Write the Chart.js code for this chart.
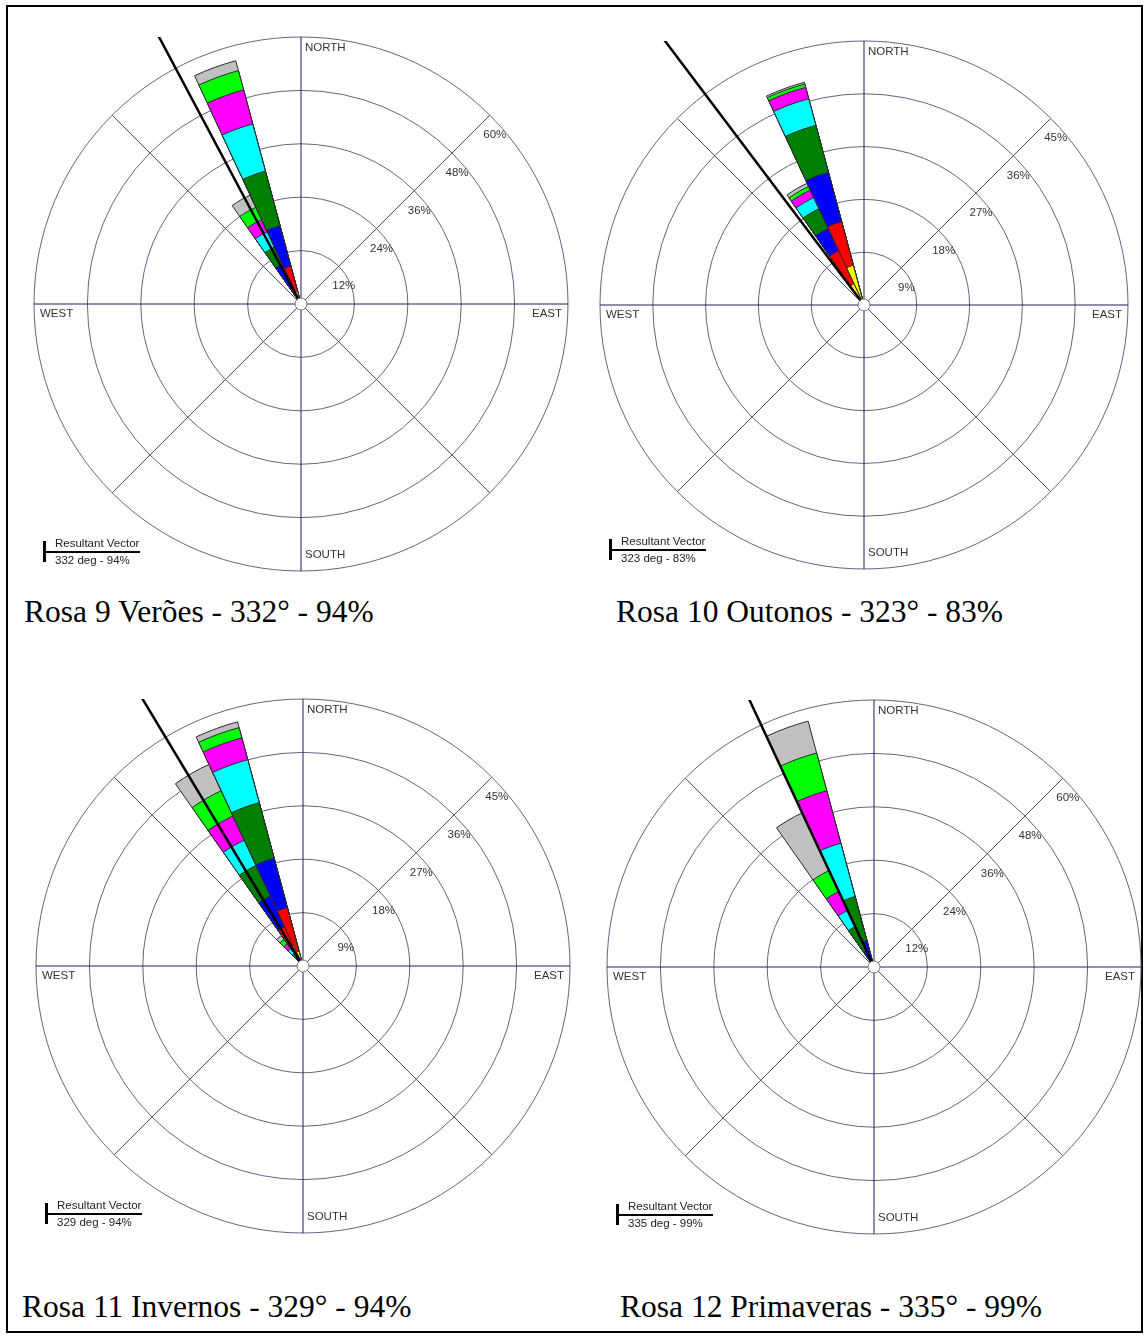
<!DOCTYPE html>
<html>
<head>
<meta charset="utf-8">
<script src="https://cdn.jsdelivr.net/npm/chart.js@4.4.0/dist/chart.umd.min.js"></script>
<style>
  body { margin: 0; background: #fff; }
  #page { position: relative; width: 1147px; height: 1337px; overflow: hidden; }
  #frame { position: absolute; left: 6px; top: 5px; width: 1137px; height: 1328px; border: 2px solid #000; box-sizing: border-box; }
  canvas { position: absolute; }
  .caption { position: absolute; font-family: 'Liberation Serif', 'Times New Roman', serif; font-size: 31.5px; line-height: 31.5px; color: #000; white-space: nowrap; }
</style>
</head>
<body>
<div id="page">
  <div id="frame"></div>
  <canvas id="rose9"></canvas>
  <canvas id="rose10"></canvas>
  <canvas id="rose11"></canvas>
  <canvas id="rose12"></canvas>
  <div class="caption" style="left:24px; top:596px;">Rosa 9 Verões - 332° - 94%</div>
  <div class="caption" style="left:616px; top:596px;">Rosa 10 Outonos - 323° - 83%</div>
  <div class="caption" style="left:22px; top:1291px;">Rosa 11 Invernos - 329° - 94%</div>
  <div class="caption" style="left:620px; top:1291px;">Rosa 12 Primaveras - 335° - 99%</div>
</div>
<script>
// sector centres (degrees from north), 36 sectors of 10 deg
const directions = ['0','10','20','30','40','50','60','70','80','90','100','110','120','130','140','150','160','170',
                    '180','190','200','210','220','230','240','250','260','270','280','290','300','310','320','330','340','350'];
// speed classes, inner -> outer
const classColors = ['#ffff00', '#ff0000', '#0000ff', '#007f00', '#00ffff', '#ff00ff', '#00ff00', '#c0c0c0'];
const spokeAngles = [0, 45, 90, 135, 180, 225, 270, 315];

// Rosa 9 - Verões (frequency % per speed class)
const verao330 = [1.0, 3.0, 5.9, 4.2, 3.8, 3.0, 3.1, 3.0];
const verao340 = [3.0, 5.8, 9.4, 12.7, 11.0, 7.9, 4.5, 2.3];
const veraoRings = [12, 24, 36, 48, 60];
const veraoVector = [332, 94];

// Rosa 10 - Outonos
const outono330 = [4.0, 6.2, 4.2, 3.7, 2.1, 1.4, 0.7, 0.6];
const outono340 = [7.0, 7.7, 8.7, 8.3, 4.7, 2.0, 0.6, 0.3];
const outonoRings = [9, 18, 27, 36, 45];
const outonoVector = [323, 83];

// Rosa 11 - Invernos
const inverno320 = [0.5, 0.5, 0.8, 0.8, 1.0, 1.0, 0.9, 0.8];
const inverno330 = [3.8, 3.5, 5.7, 5.7, 4.7, 4.5, 4.7, 4.9];
const inverno340 = [2.6, 7.6, 8.6, 9.7, 7.5, 3.8, 1.8, 1.0];
const invernoRings = [9, 18, 27, 36, 45];
const invernoVector = [329, 94];

// Rosa 12 - Primaveras
const primavera330 = [0.4, 0.4, 3.2, 6.0, 4.0, 4.7, 5.2, 14.3];
const primavera340 = [0.5, 0.7, 4.9, 10.3, 12.4, 12.2, 8.8, 7.4];
const primaveraRings = [12, 24, 36, 48, 60];
const primaveraVector = [335, 99];

const labelFont = '11.5px "Liberation Sans", Arial, sans-serif';

// polar area does not stack, so each class gets the running total and
// the smaller totals are drawn on top (dataset 0 is drawn last)
function buildDatasets(petals) {
    return classColors.map((color, k) => {
        const data = directions.map(() => 0);
        petals.forEach(([dir, freqs]) => {
            const idx = directions.indexOf(String(dir));
            data[idx] = freqs.slice(0, k + 1).reduce((a, b) => a + b, 0);
        });
        return {
            data: data,
            backgroundColor: color,
            borderColor: '#2a2a2a',
            borderWidth: c => (c.raw > 0 ? 1 : 0)
        };
    });
}

const roseDecor = {
    id: 'roseDecor',
    beforeDatasetsDraw(chart, args, opts) {
        const scale = chart.scales.r;
        const ctx = chart.ctx;
        const cx = scale.xCenter, cy = scale.yCenter, R = scale.drawingArea;
        ctx.save();
        spokeAngles.forEach(a => {
            const t = a * Math.PI / 180;
            ctx.beginPath();
            ctx.moveTo(cx, cy);
            ctx.lineTo(cx + R * Math.sin(t), cy - R * Math.cos(t));
            ctx.strokeStyle = a % 90 === 0 ? '#1e1e5e' : '#4c4c7c';
            ctx.lineWidth = 1;
            ctx.stroke();
        });

        ctx.fillStyle = '#333';
        ctx.font = labelFont;
        ctx.textBaseline = 'top';
        ctx.textAlign = 'left';
        ctx.fillText('NORTH', cx + 4, cy - R + 5);
        ctx.fillText('WEST', cx - R + 6, cy + 4);
        ctx.textAlign = 'right';
        ctx.fillText('EAST', cx + R - 6, cy + 4);
        ctx.textAlign = 'left';
        ctx.textBaseline = 'bottom';
        ctx.fillText('SOUTH', cx + 4, cy + R - 10);

        // ring labels on the NE spoke
        ctx.textAlign = 'center';
        ctx.textBaseline = 'middle';
        opts.rings.forEach(v => {
            const d = scale.getDistanceFromCenterForValue(v) * Math.SQRT1_2;
            ctx.fillText(v + '%', cx + d + 5, cy - d + 20);
        });
        ctx.restore();
    },
    afterDatasetsDraw(chart, args, opts) {
        const scale = chart.scales.r;
        const ctx = chart.ctx;
        const area = chart.chartArea;
        const cx = scale.xCenter, cy = scale.yCenter;
        const [deg, pct] = opts.vector;
        const t = deg * Math.PI / 180;
        const d = scale.getDistanceFromCenterForValue(scale.max * 1.6);

        ctx.save();
        ctx.beginPath();
        ctx.rect(area.left, area.top, area.right - area.left, area.bottom - area.top);
        ctx.clip();
        ctx.beginPath();
        ctx.moveTo(cx, cy);
        ctx.lineTo(cx + d * Math.sin(t), cy - d * Math.cos(t));
        ctx.strokeStyle = '#000';
        ctx.lineWidth = 2.5;
        ctx.stroke();
        ctx.restore();

        ctx.save();
        ctx.beginPath();
        ctx.arc(cx, cy, 6, 0, Math.PI * 2);
        ctx.fillStyle = '#fff';
        ctx.fill();
        ctx.strokeStyle = '#777';
        ctx.lineWidth = 1;
        ctx.stroke();

        // resultant vector legend
        const lx = area.left, by = area.bottom;
        ctx.fillStyle = '#000';
        ctx.fillRect(lx + 9, by - 30, 3, 21);
        ctx.fillRect(lx + 9, by - 20, 97, 2);
        ctx.fillStyle = '#222';
        ctx.font = '11.5px "Liberation Sans", Arial, sans-serif';
        ctx.textAlign = 'left';
        ctx.textBaseline = 'alphabetic';
        ctx.fillText('Resultant Vector', lx + 21, by - 24);
        ctx.fillText(deg + ' deg - ' + pct + '%', lx + 21, by - 7);
        ctx.restore();
    }
};

function makeRose(id, cx, cy, R, rings, petals, vector) {
    const canvas = document.getElementById(id);
    canvas.width = 2 * R + 6;
    canvas.height = 2 * R + 6;
    canvas.style.left = (cx - R - 3) + 'px';
    canvas.style.top = (cy - R - 3) + 'px';

    new Chart(canvas.getContext('2d'), {
        type: 'polarArea',
        data: {
            labels: directions,
            datasets: buildDatasets(petals)
        },
        options: {
            responsive: false,
            animation: false,
            layout: { padding: 3 },
            plugins: {
                legend: { display: false },
                tooltip: { enabled: false },
                roseDecor: { rings: rings, vector: vector }
            },
            scales: {
                r: {
                    min: 0,
                    max: rings[rings.length - 1],
                    startAngle: -5,
                    ticks: { display: false, stepSize: rings[1] - rings[0] },
                    grid: { circular: true, color: '#64647f', lineWidth: 1 },
                    angleLines: { display: false },
                    pointLabels: { display: false }
                }
            }
        },
        plugins: [roseDecor]
    });
}

makeRose('rose9', 301, 304, 267, veraoRings, [[330, verao330], [340, verao340]], veraoVector);
makeRose('rose10', 864, 305, 264, outonoRings, [[330, outono330], [340, outono340]], outonoVector);
makeRose('rose11', 303, 966, 267, invernoRings, [[320, inverno320], [330, inverno330], [340, inverno340]], invernoVector);
makeRose('rose12', 874, 967, 267, primaveraRings, [[330, primavera330], [340, primavera340]], primaveraVector);
</script>
</body>
</html>
